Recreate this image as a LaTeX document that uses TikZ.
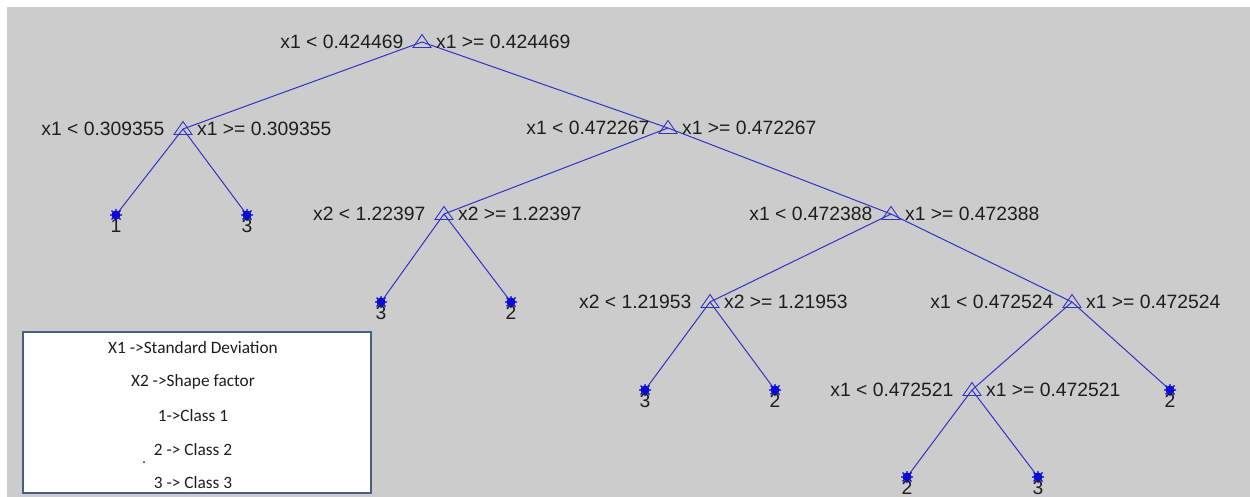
\documentclass[tikz,border=0pt]{standalone}
\usepackage{fontspec}
\setmainfont{Liberation Sans}
\newfontfamily\legfont{Carlito}
\definecolor{bggray}{RGB}{204,204,204}
\definecolor{treeblue}{RGB}{50,50,200}
\definecolor{leafblue}{RGB}{10,10,220}
\definecolor{txt}{RGB}{30,30,30}
\definecolor{legborder}{RGB}{70,95,130}
\begin{document}
\begin{tikzpicture}[x=1pt,y=-1pt,
  edge/.style={draw=treeblue,line width=1pt},
  splitmark/.style={draw=treeblue,line width=0.9pt,line join=miter},
  leafmark/.style={circle,fill=leafblue,inner sep=0pt,minimum size=9pt},
  lbl/.style={text=txt,font=\fontsize{19.3}{22}\selectfont,inner sep=0pt},
  leaflbl/.style={text=txt,font=\fontsize{19.3}{22}\selectfont,inner sep=0pt},
  legtxt/.style={text=txt,font=\legfont\fontsize{17.3}{20}\selectfont,inner sep=0pt}]
\useasboundingbox (0,0) rectangle (1250,497);
\fill[white] (0,0) rectangle (1250,497);
\fill[bggray] (7,7) rectangle (1250,497);
% coordinates
\coordinate (r) at (422,42);
\coordinate (a) at (183,129);
\coordinate (b) at (668,128);
\coordinate (c) at (444,214);
\coordinate (d) at (891,214);
\coordinate (e) at (710,302);
\coordinate (f) at (1072,302);
\coordinate (g) at (972,390);
\coordinate (l1) at (116,215);
\coordinate (l2) at (247,215);
\coordinate (l3) at (381,302);
\coordinate (l4) at (511,302);
\coordinate (l5) at (645,390);
\coordinate (l6) at (775,390);
\coordinate (l7) at (1170,390);
\coordinate (l8) at (907,477);
\coordinate (l9) at (1038,477);
% edges
\draw[edge] (r) -- (a);
\draw[edge] (r) -- (b);
\draw[edge] (a) -- (l1);
\draw[edge] (a) -- (l2);
\draw[edge] (b) -- (c);
\draw[edge] (b) -- (d);
\draw[edge] (c) -- (l3);
\draw[edge] (c) -- (l4);
\draw[edge] (d) -- (e);
\draw[edge] (d) -- (f);
\draw[edge] (e) -- (l5);
\draw[edge] (e) -- (l6);
\draw[edge] (f) -- (g);
\draw[edge] (f) -- (l7);
\draw[edge] (g) -- (l8);
\draw[edge] (g) -- (l9);
% split markers and labels
\foreach \n/\lt/\gt in {r/{x1 < 0.424469}/{x1 >= 0.424469},
                        a/{x1 < 0.309355}/{x1 >= 0.309355},
                        b/{x1 < 0.472267}/{x1 >= 0.472267},
                        c/{x2 < 1.22397}/{x2 >= 1.22397},
                        d/{x1 < 0.472388}/{x1 >= 0.472388},
                        e/{x2 < 1.21953}/{x2 >= 1.21953},
                        f/{x1 < 0.472524}/{x1 >= 0.472524},
                        g/{x1 < 0.472521}/{x1 >= 0.472521}}{
  \draw[splitmark] (\n) ++(0,-7.5) -- ++(-9,13) -- ++(18,0) -- cycle;
  \node[lbl,anchor=east] (\n lt) at ([xshift=-18.5pt]\n) {\lt};
  \node[lbl,anchor=west] (\n gt) at ([xshift=14pt]\n) {\gt};
}
% leaves
\foreach \n/\c in {l1/1,l2/3,l3/3,l4/2,l5/3,l6/2,l7/2,l8/2,l9/3}{
  \node[leafmark] (\n m) at (\n) {};
  \draw[leafblue,line width=1.2pt] (\n) ++(-6,0) -- ++(12,0) (\n) ++(0,-6) -- ++(0,12)
     (\n) ++(-4.5,-4.5) -- ++(9,9) (\n) ++(-4.5,4.5) -- ++(9,-9);
  \node[leaflbl] (\n t) at ([yshift=-11pt]\n) {\c};
}
% legend
\node[draw=legborder,line width=2.2pt,fill=white,minimum width=348pt,minimum height=161pt,inner sep=0pt] (leg) at (197,412.5) {};
\node[legtxt] (k1) at (193,348) {X1 ->Standard Deviation};
\node[legtxt] (k2) at (193,382) {X2 ->Shape factor};
\node[legtxt] (k3) at (193,416) {1->Class 1};
\node[legtxt] (k4) at (193,450) {2 -> Class 2};
\node[legtxt] (k5) at (193,483) {3 -> Class 3};
\fill[txt] (144,462) circle (1pt);
\end{tikzpicture}
\end{document}
